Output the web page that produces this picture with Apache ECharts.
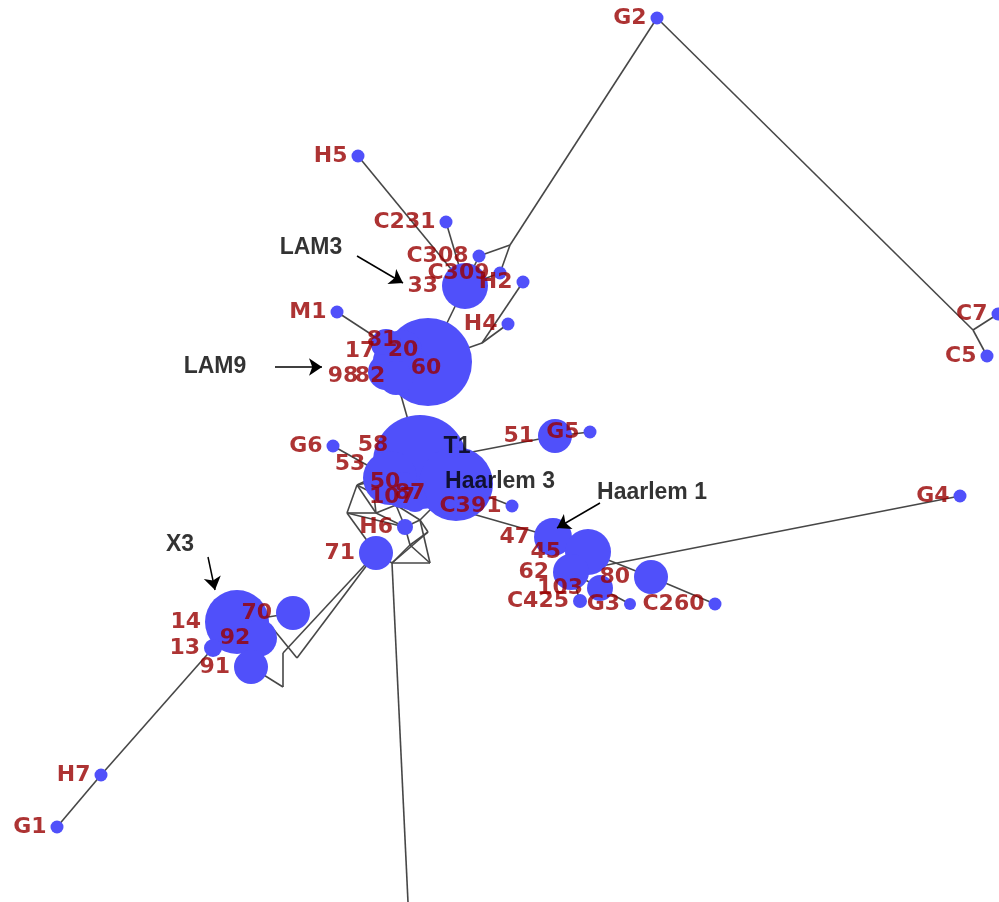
<!DOCTYPE html>
<html>
<head>
<meta charset="utf-8">
<script src="https://cdn.jsdelivr.net/npm/echarts@6/dist/echarts.min.js"></script>
<style>
    html, body { margin: 0; padding: 0; background: #fff; }
    #main { width: 999px; height: 902px; }
</style>
</head>
<body>
<div id="main"></div>
<script>
// 节点: 名称, 坐标 (图内单位, y 向下), 圆的直径 (0 = 隐藏的中间节点)
var nodeNames = ['G2', 'H5', 'C231', 'C308', 'C309', 'H2', '33', 'H4', 'M1',
    '60', '20', '81', '17', '98', '82',
    '58', '53', 'T1b', '50', '107', '87', 'G6', '51', 'G5', 'C391', 'H6', '71',
    '47', '45', '62', '103', '80', 'C425', 'G3', 'C260', 'G4', 'C7', 'C5',
    '14', '70', '92', '13', '91', 'H7', 'G1',
    '_c7', '_g2', '_h2', '_m1', '_m2', '_m3', '_m4', '_m5', '_m6', '_m7', '_m8',
    '_m9', '_m10', '_x0', '_x1', '_x2', '_x3', '_b'];
var nodeX = [657, 358, 446, 479, 500, 523, 465, 508, 337,
    428, 402, 386, 388, 386, 396,
    420, 390, 456, 402, 410, 415, 333, 555, 590, 512, 405, 376,
    553, 588, 571, 600, 651, 580, 630, 715, 960, 998, 987,
    237, 293, 258, 213, 251, 101, 57,
    973, 510, 482, 357, 347, 376, 396, 420, 430, 392, 410,
    428, 372, 270, 297, 283, 283, 408];
var nodeY = [18, 156, 222, 256, 273, 282, 286, 324, 312,
    362, 350, 344, 360, 372, 378,
    462, 478, 484, 490, 496, 500, 446, 436, 432, 506, 527, 553,
    537, 552, 572, 588, 577, 601, 604, 604, 496, 314, 356,
    622, 613, 638, 648, 667, 775, 827,
    330, 245, 343, 485, 513, 513, 505, 520, 563, 563, 545,
    532, 478, 625, 658, 653, 687, 902];
var nodeSize = [13, 13, 13, 13, 13, 13, 46, 13, 13,
    88, 40, 30, 30, 36, 34,
    94, 54, 74, 36, 28, 24, 13, 34, 13, 13, 16, 34,
    38, 46, 36, 26, 34, 14, 12, 13, 13, 13, 13,
    64, 34, 38, 18, 34, 13, 13,
    0, 0, 0, 0, 0, 0, 0, 0, 0, 0, 0,
    0, 0, 0, 0, 0, 0, 0];

// 连线
var links = [
    ['G2', '_c7'], ['_c7', 'C7'], ['_c7', 'C5'],
    ['G2', '_g2'], ['_g2', 'C308'], ['_g2', 'C309'],
    ['C309', '33'], ['C308', '33'], ['H5', '33'], ['C231', '33'],
    ['H2', '_h2'], ['H4', '_h2'], ['_h2', '60'], ['33', '60'],
    ['M1', '81'], ['82', '58'], ['G6', '53'],
    ['58', '51'], ['51', 'G5'],
    ['107', '47'], ['C391', 'T1b'], ['47', '45'], ['45', '62'], ['62', '103'],
    ['103', 'G3'], ['62', 'C425'], ['45', '80'], ['80', 'C260'], ['62', 'G4'],
    ['53', '_m1'], ['_m1', '_m2'], ['_m2', '_m3'], ['_m1', '_m3'], ['_m1', '_m4'],
    ['_m3', '_m4'], ['_m4', '_m5'], ['_m3', 'H6'], ['_m4', 'H6'], ['H6', '_m5'],
    ['_m5', '_m6'], ['H6', '_m8'], ['_m8', '_m6'], ['_m8', '_m7'], ['_m7', '_m6'],
    ['71', '_m7'], ['_m2', '71'], ['_m7', '_b'], ['_m5', 'T1b'], ['107', '_m4'],
    ['_m5', '_m9'], ['_m9', '_m7'], ['_m8', '_m9'], ['_m1', '_m10'], ['_m10', '_m4'],
    ['_m10', '_m3'], ['_m2', 'H6'],
    ['71', '_x1'], ['_x1', '_x0'], ['_x0', '14'], ['71', '_x2'], ['_x2', '_x3'], ['_x3', '91'],
    ['14', '70'], ['14', '92'], ['92', '91'], ['14', '13'], ['13', 'H7'], ['H7', 'G1']
];

// 注释文字与箭头
var noteText = ['LAM3', 'LAM9', 'X3', 'T1', 'Haarlem 3', 'Haarlem 1'];
var noteX = [311, 215, 180, 457, 500, 652];
var noteY = [248, 367, 545, 447, 482, 493];
var arrowFrom = [[357, 256], [275, 367], [208, 557], [600, 503]];
var arrowTo = [[403, 283], [322, 367], [215, 590], [557, 528]];

// 标签偏移 (相对圆心), 其余标签放在左侧
var labelOffset = {
    '60': [-2, 6], '20': [1, 0], '81': [-4, -4], '17': [-28, -9], '98': [-43, 4], '82': [-26, -2],
    '58': [-47, -17], '53': [-40, -14], '50': [-17, -8], '107': [-18, 1], '87': [-5, -7],
    '92': [-23, 0]
};

var chart = echarts.init(document.getElementById('main'));

var graphNodes = [];
var labelNodes = [];
nodeNames.forEach(function(name, i) {
    graphNodes.push({
        name: name,
        value: [nodeX[i], nodeY[i]],
        symbolSize: nodeSize[i]
    });
    if (name.charAt(0) === '_' || name === 'T1b') {
        return;
    }
    var item = {
        name: name,
        value: [nodeX[i], nodeY[i]],
        symbolSize: nodeSize[i]
    };
    if (labelOffset[name]) {
        item.label = { position: 'inside', offset: labelOffset[name] };
    }
    labelNodes.push(item);
});

var notes = noteText.map(function(t, i) {
    return { name: t, value: [noteX[i], noteY[i]] };
});
var arrows = arrowFrom.map(function(p, i) {
    return { coords: [p, arrowTo[i]] };
});

var option = {
    animation: false,
    backgroundColor: '#fff',
    grid: { left: 0, right: 0, top: 0, bottom: 0 },
    xAxis: { type: 'value', min: 0, max: 999, show: false },
    yAxis: { type: 'value', min: 0, max: 902, inverse: true, show: false },
    series: [
        {
            type: 'graph',
            layout: 'none',
            coordinateSystem: 'cartesian2d',
            z: 2,
            symbol: 'circle',
            itemStyle: { color: '#5050fa' },
            lineStyle: { color: '#474747', width: 1.6, opacity: 1, curveness: 0 },
            label: { show: false },
            emphasis: { disabled: true },
            data: graphNodes,
            links: links.map(function(l) {
                return { source: l[0], target: l[1] };
            })
        },
        {
            type: 'scatter',
            z: 5,
            symbol: 'circle',
            itemStyle: { color: 'rgba(0,0,0,0)' },
            emphasis: { disabled: true },
            label: {
                show: true,
                position: 'left',
                distance: 4,
                formatter: '{b}',
                color: '#990000',
                fontFamily: 'DejaVu Sans',
                fontWeight: 'bold',
                fontSize: 22
            },
            data: labelNodes
        },
        {
            type: 'lines',
            coordinateSystem: 'cartesian2d',
            z: 6,
            symbol: ['none', 'arrow'],
            symbolSize: 13,
            lineStyle: { color: '#000', width: 1.5, opacity: 1 },
            data: arrows
        },
        {
            type: 'scatter',
            z: 7,
            symbolSize: 0,
            emphasis: { disabled: true },
            label: {
                show: true,
                position: 'inside',
                formatter: '{b}',
                color: '#000',
                fontFamily: 'Liberation Sans',
                fontWeight: 'bold',
                fontSize: 23
            },
            data: notes
        }
    ]
};
chart.setOption(option);
</script>
</body>
</html>
